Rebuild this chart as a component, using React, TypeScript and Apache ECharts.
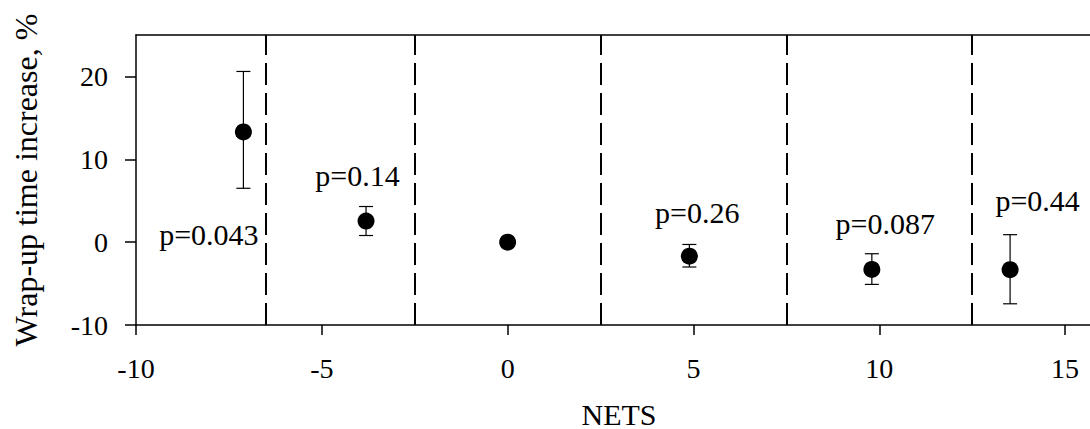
import React, { useEffect, useRef } from "react";
import * as echarts from "echarts";

const nets = [-7.11, -3.81, 0, 4.89, 9.8, 13.52];
const wrapUp = [13.3, 2.55, 0, -1.69, -3.3, -3.33];
const errLow = [6.5, 0.8, 0, -3.0, -5.1, -7.44];
const errHigh = [20.6, 4.3, 0, -0.28, -1.4, 0.9];

const boundaries = [-6.5, -2.5, 2.5, 7.5, 12.5];

const pLabels = ["p=0.043", "p=0.14", "p=0.26", "p=0.087", "p=0.44"];
const pLabelX = [-8.04, -4.04, 5.1, 10.16, 14.26];
const pLabelY = [0.93, 8.06, 3.62, 2.26, 5.04];

const xTicks = [-10, -5, 0, 5, 10, 15];
const yTicks = [-10, 0, 10, 20];

const FONT = "Liberation Serif, Times New Roman, serif";

export default function App() {
  const ref = useRef<HTMLDivElement>(null);
  useEffect(() => {
    if (!ref.current) return;
    const chart = echarts.init(ref.current, undefined, { renderer: "svg" });
    const black = "#000000";
    chart.setOption({
      animation: false,
      backgroundColor: "#ffffff",
      grid: { left: 136, right: 0, top: 35, bottom: 104, containLabel: false },
      xAxis: [
        {
          type: "value",
          min: -10,
          max: 15.67,
          interval: 5,
          position: "bottom",
          axisLine: { show: true, onZero: false, lineStyle: { color: black, width: 1.5 } },
          axisTick: { show: true, inside: false, length: 10, customValues: xTicks, lineStyle: { color: black, width: 1.5 } },
          axisLabel: { customValues: xTicks, margin: 29, fontFamily: FONT, fontSize: 28, color: black },
          splitLine: { show: false },
        },
        {
          type: "value",
          min: -10,
          max: 15.67,
          position: "top",
          axisLine: { show: true, onZero: false, lineStyle: { color: black, width: 1.5 } },
          axisTick: { show: false },
          axisLabel: { show: false },
          splitLine: { show: false },
        },
      ],
      yAxis: {
        type: "value",
        min: -10,
        max: 25,
        interval: 10,
        axisLine: { show: true, onZero: false, lineStyle: { color: black, width: 1.5 } },
        axisTick: { show: true, inside: false, length: 11, customValues: yTicks, lineStyle: { color: black, width: 1.5 } },
        axisLabel: { customValues: yTicks, margin: 28, fontFamily: FONT, fontSize: 28, color: black },
        splitLine: { show: false },
      },
      graphic: [
        {
          type: "text",
          x: 619,
          y: 414,
          style: {
            text: "NETS",
            font: `30px ${FONT}`,
            fill: black,
            align: "center",
            verticalAlign: "middle",
          },
        },
        {
          type: "text",
          x: 26,
          y: 180,
          rotation: Math.PI / 2,
          style: {
            text: "Wrap-up time increase, %",
            font: `32px ${FONT}`,
            fill: black,
            align: "center",
            verticalAlign: "middle",
          },
        },
      ],
      series: [
        {
          type: "custom",
          name: "err",
          data: nets.map((x, i) => [x, errLow[i], errHigh[i]]),
          renderItem: (params: any, api: any) => {
            const x = api.value(0);
            const lo = api.coord([x, api.value(1)]);
            const hi = api.coord([x, api.value(2)]);
            if (Math.abs(lo[1] - hi[1]) < 1) return { type: "group", children: [] };
            const hw = 7;
            const style = { stroke: black, lineWidth: 1.2 };
            return {
              type: "group",
              children: [
                { type: "line", shape: { x1: lo[0], y1: lo[1], x2: hi[0], y2: hi[1] }, style },
                { type: "line", shape: { x1: lo[0] - hw, y1: lo[1], x2: lo[0] + hw, y2: lo[1] }, style },
                { type: "line", shape: { x1: hi[0] - hw, y1: hi[1], x2: hi[0] + hw, y2: hi[1] }, style },
              ],
            };
          },
          z: 2,
        },
        {
          type: "scatter",
          name: "points",
          data: nets.map((x, i) => [x, wrapUp[i]]),
          symbol: "circle",
          symbolSize: 17,
          itemStyle: { color: black, opacity: 1 },
          z: 3,
          markLine: {
            silent: true,
            symbol: ["none", "none"],
            label: { show: false },
            lineStyle: { color: black, width: 2, opacity: 1, type: [22, 8] },
            data: boundaries.map((b) => ({ xAxis: b })),
          },
        },
        {
          type: "scatter",
          name: "pvals",
          data: pLabelX.map((x, i) => [x, pLabelY[i]]),
          symbolSize: 0,
          itemStyle: { color: black, opacity: 1 },
          label: {
            show: true,
            position: "inside",
            formatter: (p: any) => pLabels[p.dataIndex],
            fontFamily: FONT,
            fontSize: 30,
            color: black,
            opacity: 1,
          },
          z: 4,
        },
      ],
    });
    return () => chart.dispose();
  }, []);
  return (
    <div
      ref={ref}
      style={{ position: "absolute", left: 0, top: 0, width: 1090, height: 429 }}
    />
  );
}
